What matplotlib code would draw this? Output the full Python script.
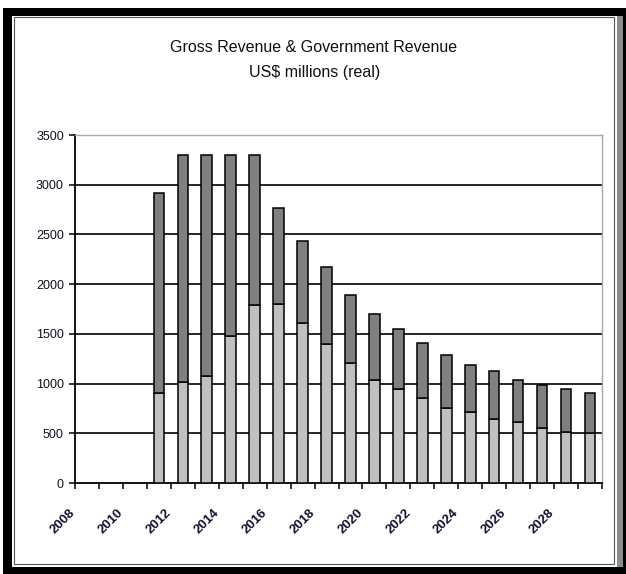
import matplotlib.pyplot as plt
from matplotlib.patches import Rectangle

years = list(range(2008, 2030))
label_years = list(range(2008, 2029, 2))
rev_years = list(range(2011, 2030))
# government revenue (light, bottom) and gross revenue (total bar height)
gov_revenue = [910, 1020, 1080, 1480, 1790, 1805, 1605, 1400, 1205, 1038,
               947, 850, 758, 718, 643, 610, 550, 517, 500]
gross_revenue = [2920, 3300, 3300, 3300, 3300, 2768, 2430, 2172, 1893, 1700,
                 1553, 1405, 1285, 1185, 1128, 1036, 988, 943, 907]
y_ticks = [0, 500, 1000, 1500, 2000, 2500, 3000, 3500]

W, H = 626, 574
plt.rcParams['font.family'] = ['Liberation Sans', 'DejaVu Sans']

fig = plt.figure(figsize=(W / 100, H / 100), dpi=100)
fig.patch.set_facecolor('white')


def fx(px):
    return px / W


def fy(py):
    return 1 - py / H


# outer frame
fig.add_artist(Rectangle((fx(3), fy(574)), fx(623), 566 / H, transform=fig.transFigure,
                         facecolor='black', edgecolor='none', zorder=0))
fig.add_artist(Rectangle((fx(617), fy(567)), fx(6), 551 / H, transform=fig.transFigure,
                         facecolor='#8c8c8c', edgecolor='none', zorder=0))
fig.add_artist(Rectangle((fx(12), fy(567)), fx(605), 551 / H, transform=fig.transFigure,
                         facecolor='white', edgecolor='none', zorder=0))
fig.add_artist(Rectangle((fx(14), fy(564)), fx(600), 547 / H, transform=fig.transFigure,
                         facecolor='none', edgecolor='#555555', linewidth=0.8, zorder=1))

ax = fig.add_axes([fx(75), fy(483), fx(602 - 75), (483 - 135) / H])
ax.set_facecolor('white')

xpos = [years.index(y) for y in rev_years]
top_part = [g - v for g, v in zip(gross_revenue, gov_revenue)]
ax.bar(xpos, gov_revenue, width=0.44, color='#c0c0c0', edgecolor='black', linewidth=1.1, zorder=3)
ax.bar(xpos, top_part, width=0.44, bottom=gov_revenue, color='#808080', edgecolor='black',
       linewidth=1.1, zorder=3)

ax.set_xlim(-0.5, len(years) - 0.5)
ax.set_ylim(0, 3500)
ax.set_yticks(y_ticks)
ax.set_yticklabels([str(v) for v in y_ticks], fontsize=9, color='#111122')
for v in y_ticks[1:-1]:
    ax.axhline(v, color='black', linewidth=1.2, zorder=2)

ax.set_xticks([i - 0.5 for i in range(len(years) + 1)])
ax.set_xticklabels([])
ax.tick_params(axis='both', direction='out', length=4, width=1.1, color='black')
ax.tick_params(axis='y', pad=4)

for s in ['left', 'bottom']:
    ax.spines[s].set_color('black')
    ax.spines[s].set_linewidth(1.3)
for s in ['top', 'right']:
    ax.spines[s].set_color('#a8a8a8')
    ax.spines[s].set_linewidth(1.0)

for y in label_years:
    ax.annotate(str(y), xy=(years.index(y), 0), xycoords=('data', 'axes fraction'),
                xytext=(-24, -38), textcoords='offset pixels', rotation=45,
                rotation_mode='anchor', ha='center', va='center',
                fontsize=9.5, fontweight='bold', color='#111133')

fig.text(fx(314), fy(47), "Gross Revenue & Government Revenue", ha='center', va='center',
         fontsize=11.5, color='#111111')
fig.text(fx(315), fy(73), "US$ millions (real)", ha='center', va='center',
         fontsize=11.5, color='#111111')

fig.savefig('out.png', dpi=100)
